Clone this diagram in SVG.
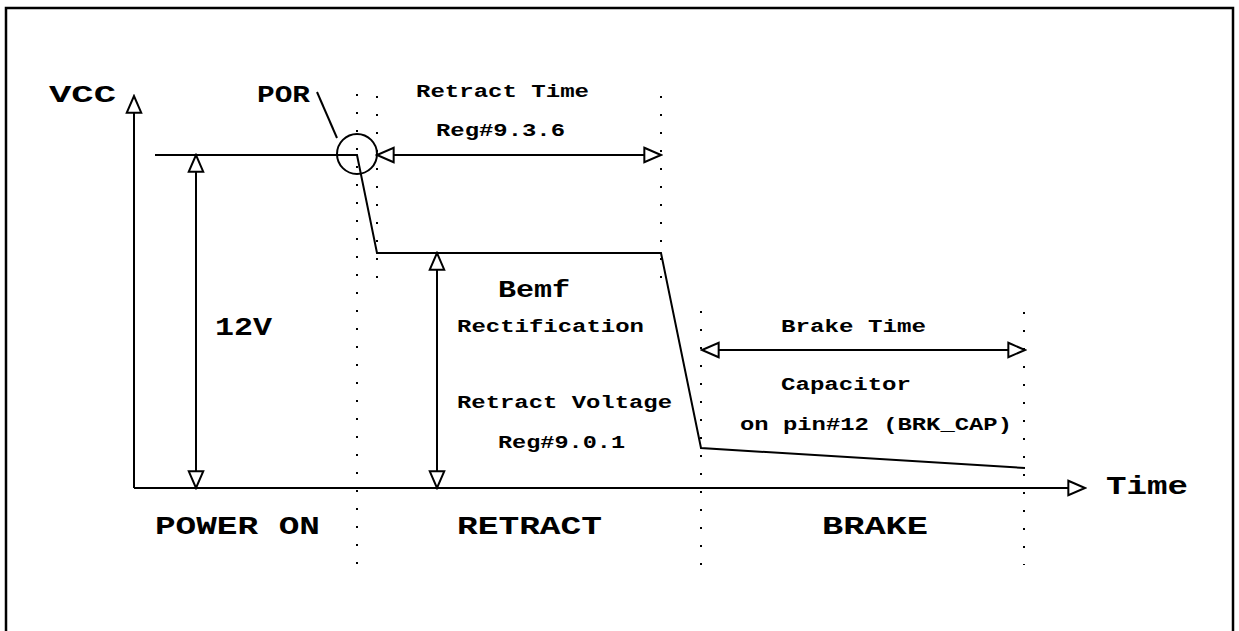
<svg xmlns="http://www.w3.org/2000/svg" width="1239" height="631" viewBox="0 0 1239 631">
  <style>
    .ln { fill: none; stroke: #000; stroke-width: 2; }
    .dot { fill: none; stroke: #000; stroke-width: 2; stroke-dasharray: 2 16; }
    .big { font-family: "Liberation Mono", "Courier New", monospace; font-weight: bold; font-size: 26px; fill: #000; }
    .mid { font-family: "Liberation Mono", "Courier New", monospace; font-weight: bold; font-size: 24px; fill: #000; }
    .sm { font-family: "Liberation Mono", "Courier New", monospace; font-weight: bold; font-size: 18px; fill: #000; }
  </style>
  <defs>
    <marker id="tri" markerUnits="userSpaceOnUse" markerWidth="20" markerHeight="18" viewBox="-1 -8 18 16" refX="15" refY="0" orient="auto-start-reverse">
      <path d="M0,-6.5 L15,0 L0,6.5 Z" fill="#fff" stroke="#000" stroke-width="1.8"/>
    </marker>
  </defs>
  <rect x="0" y="0" width="1239" height="631" fill="#fff"/>
  <rect x="6" y="8" width="1227" height="660" fill="none" stroke="#000" stroke-width="2.5"/>

  <g id="grid">
    <line class="dot" x1="357" y1="94" x2="357" y2="565"/>
    <line class="dot" x1="377" y1="96" x2="377" y2="280"/>
    <line class="dot" x1="661" y1="96" x2="661" y2="280"/>
    <line class="dot" x1="701" y1="311" x2="701" y2="565"/>
    <line class="dot" x1="1024" y1="312" x2="1024" y2="565"/>
  </g>

  <g id="connectors">
    <polyline class="ln" points="134,488 134,96" marker-end="url(#tri)"/>
    <polyline class="ln" points="134,488 1085,488" marker-end="url(#tri)"/>
    <line class="ln" x1="196" y1="155" x2="196" y2="488" marker-start="url(#tri)" marker-end="url(#tri)"/>
    <line class="ln" x1="437" y1="253" x2="437" y2="488" marker-start="url(#tri)" marker-end="url(#tri)"/>
    <line class="ln" x1="377" y1="155" x2="661" y2="155" marker-start="url(#tri)" marker-end="url(#tri)"/>
    <line class="ln" x1="702" y1="350" x2="1025" y2="350" marker-start="url(#tri)" marker-end="url(#tri)"/>
    <line class="ln" x1="317" y1="92" x2="337" y2="138"/>
  </g>

  <g id="signal">
    <polyline class="ln" points="155,155 357,155 377,253 661,253 701,448 1025,468"/>
    <circle class="ln" cx="357" cy="154" r="20"/>
  </g>

  <g id="labels">
    <text class="mid" x="49" y="102" textLength="67" lengthAdjust="spacingAndGlyphs">VCC</text>
    <text class="mid" x="257" y="102" textLength="53" lengthAdjust="spacingAndGlyphs">POR</text>
    <text class="sm" x="416" y="97" textLength="173" lengthAdjust="spacingAndGlyphs">Retract Time</text>
    <text class="sm" x="436" y="136" textLength="129" lengthAdjust="spacingAndGlyphs">Reg#9.3.6</text>
    <text class="big" x="215" y="335" textLength="57" lengthAdjust="spacingAndGlyphs">12V</text>
    <text class="mid" x="498" y="297" textLength="72" lengthAdjust="spacingAndGlyphs">Bemf</text>
    <text class="sm" x="457" y="332" textLength="187" lengthAdjust="spacingAndGlyphs">Rectification</text>
    <text class="sm" x="457" y="408" textLength="215" lengthAdjust="spacingAndGlyphs">Retract Voltage</text>
    <text class="sm" x="498" y="448" textLength="127" lengthAdjust="spacingAndGlyphs">Reg#9.0.1</text>
    <text class="sm" x="781" y="332" textLength="145" lengthAdjust="spacingAndGlyphs">Brake Time</text>
    <text class="sm" x="781" y="390" textLength="130" lengthAdjust="spacingAndGlyphs">Capacitor</text>
    <text class="sm" x="740" y="430" textLength="272" lengthAdjust="spacingAndGlyphs">on pin#12 (BRK_CAP)</text>
    <text class="big" x="1106" y="494" textLength="82" lengthAdjust="spacingAndGlyphs">Time</text>
    <text class="big" x="155" y="534" textLength="165" lengthAdjust="spacingAndGlyphs">POWER ON</text>
    <text class="big" x="457" y="534" textLength="145" lengthAdjust="spacingAndGlyphs">RETRACT</text>
    <text class="big" x="822" y="534" textLength="106" lengthAdjust="spacingAndGlyphs">BRAKE</text>
  </g>
</svg>
